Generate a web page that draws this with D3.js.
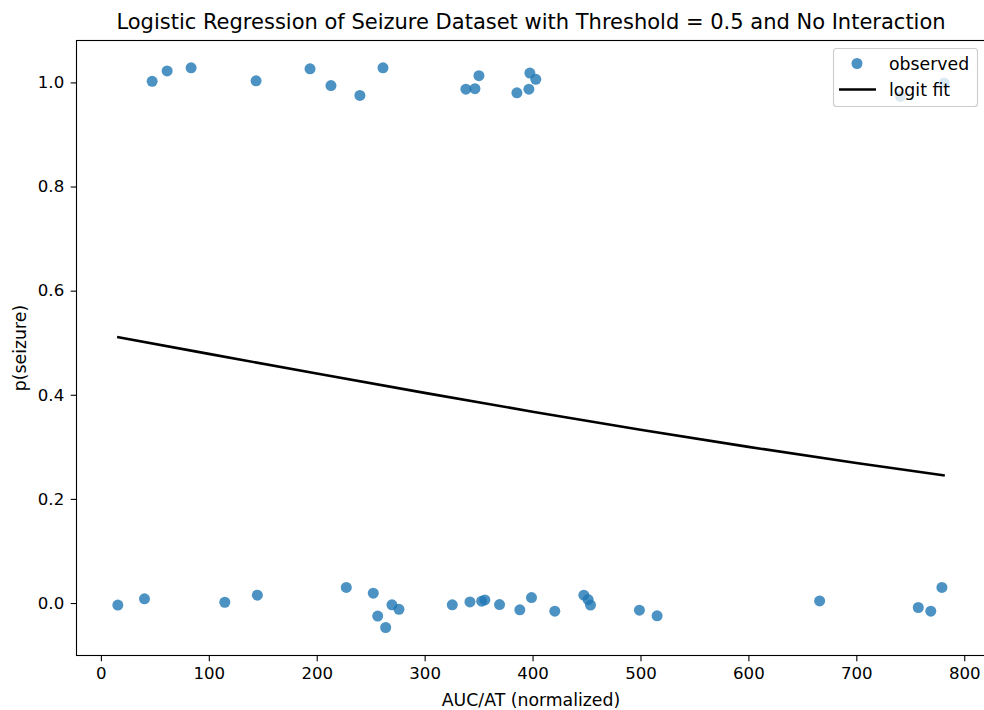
<!DOCTYPE html>
<html><head><meta charset="utf-8">
<script src="https://cdn.jsdelivr.net/npm/d3@7/dist/d3.min.js"></script>
<style>body{margin:0;background:#fff;} svg{display:block;font-family:"DejaVu Sans",sans-serif;}</style>
</head><body>
<script>
// observed data (x = AUC/AT normalized, y = seizure with jitter)
const obsX = [47.5, 61.4, 83.6, 143.8, 193.8, 213.2, 240, 261.4, 338.2, 346.6, 350.3, 385.5, 396.6, 397.5, 403, 741, 781.4,
  15.7, 40.4, 114.8, 145, 227.4, 252.4, 256.5, 263.9, 269.7, 276.2, 325.6, 342, 352.8, 355.8, 369.4, 388.2, 399, 420.6,
  447.5, 451.5, 453.7, 499, 515.4, 666, 757.4, 769, 779.3];
const obsY = [1.002, 1.022, 1.028, 1.003, 1.026, 0.994, 0.975, 1.028, 0.987, 0.988, 1.013, 0.980, 0.987, 1.018, 1.006, 0.973, 0.999,
  -0.004, 0.008, 0.0015, 0.015, 0.030, 0.019, -0.025, -0.047, -0.0035, -0.012, -0.0035, 0.002, 0.0035, 0.006, -0.003, -0.013, 0.0105, -0.0157,
  0.015, 0.0067, -0.004, -0.0138, -0.0245, 0.004, -0.0086, -0.0157, 0.030];
// logit fit curve
const fitX = [15, 100, 200, 300, 400, 500, 600, 700, 782];
const fitY = [0.511, 0.4786, 0.4408, 0.4036, 0.3675, 0.3328, 0.2999, 0.2689, 0.245];
const xTicks = [0, 100, 200, 300, 400, 500, 600, 700, 800];
const yTicks = [0.0, 0.2, 0.4, 0.6, 0.8, 1.0];
const titleText = "Logistic Regression of Seizure Dataset with Threshold = 0.5 and No Interaction";
const xLabel = "AUC/AT (normalized)";
const yLabel = "p(seizure)";
const legendLabels = ["observed", "logit fit"];

const W = 984, H = 710;
const m = {left: 76.5, right: 985.5, top: 40.5, bottom: 655.5};
const fs = 16.6, fsl = 17.3;
const svg = d3.select("body").append("svg").attr("width", W).attr("height", H);

const x = d3.scaleLinear().domain([-22.6, 819.7]).range([m.left, m.right]);
const y = d3.scaleLinear().domain([-0.1008, 1.0805]).range([m.bottom, m.top]);

// points
svg.append("g").selectAll("circle").data(obsX).join("circle")
  .attr("cx", (d) => x(d)).attr("cy", (d, i) => y(obsY[i])).attr("r", 5.5)
  .attr("fill", "#1f77b4").attr("fill-opacity", 0.8);

// fit line
svg.append("path").datum(fitX.map((d, i) => [d, fitY[i]]))
  .attr("d", d3.line().x(d => x(d[0])).y(d => y(d[1])))
  .attr("fill", "none").attr("stroke", "#000").attr("stroke-width", 2.6);

// axes
const xa = svg.append("g").attr("transform", `translate(0,${m.bottom})`)
  .call(d3.axisBottom(x).tickValues(xTicks).tickFormat(d3.format("d")).tickSizeOuter(0).tickSize(5.8).tickPadding(6));
const ya = svg.append("g").attr("transform", `translate(${m.left},0)`)
  .call(d3.axisLeft(y).tickValues(yTicks).tickFormat(d3.format(".1f")).tickSizeOuter(0).tickSize(5.8).tickPadding(6.5));
[xa, ya].forEach(a => {
  a.select(".domain").remove();
  a.selectAll("line").attr("stroke", "#000").attr("stroke-width", 1.1);
  a.selectAll("text").attr("font-size", fs).attr("fill", "#000").attr("font-family", "DejaVu Sans");
});
// spines
svg.append("rect").attr("x", m.left).attr("y", m.top).attr("width", m.right - m.left).attr("height", m.bottom - m.top)
  .attr("fill", "none").attr("stroke", "#000").attr("stroke-width", 1.1);

// labels
svg.append("text").attr("x", (m.left + m.right) / 2).attr("y", 29).attr("text-anchor", "middle")
  .attr("font-size", 21).text(titleText);
svg.append("text").attr("x", (m.left + m.right) / 2).attr("y", 706).attr("text-anchor", "middle")
  .attr("font-size", fsl).text(xLabel);
svg.append("text").attr("transform", "translate(26,348) rotate(-90)").attr("text-anchor", "middle")
  .attr("font-size", fsl).text(yLabel);

// legend
const lg = svg.append("g");
lg.append("rect").attr("x", 833.5).attr("y", 48.5).attr("width", 144).attr("height", 58).attr("rx", 3)
  .attr("fill", "#fff").attr("fill-opacity", 0.8).attr("stroke", "#ccc").attr("stroke-width", 1.1);
lg.append("circle").attr("cx", 857).attr("cy", 63.5).attr("r", 5.5).attr("fill", "#1f77b4").attr("fill-opacity", 0.8);
lg.append("line").attr("x1", 839).attr("x2", 876).attr("y1", 89.5).attr("y2", 89.5).attr("stroke", "#000").attr("stroke-width", 2.6);
lg.selectAll("text.l").data(legendLabels).join("text").attr("class", "l")
  .attr("x", 889).attr("y", (d, i) => 69.5 + i * 26).attr("font-size", fsl).text(d => d);
</script>
</body></html>
